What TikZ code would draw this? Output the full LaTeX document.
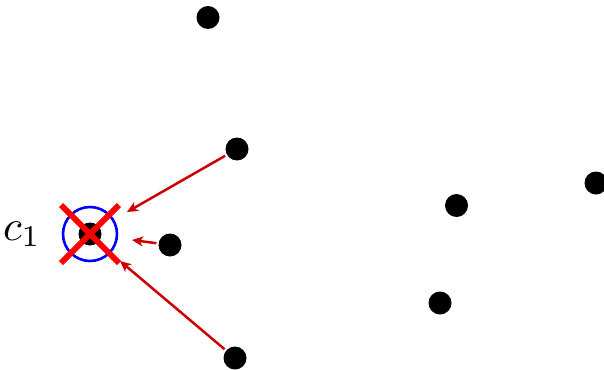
\documentclass[tikz,border=0pt]{standalone}
\usetikzlibrary{arrows.meta}
\begin{document}
\begin{tikzpicture}[x=1pt,y=-1pt,
  pt/.style={circle,fill=black,inner sep=0pt,minimum size=23pt},
  pull/.style={draw={rgb,255:red,204;green,0;blue,0},line width=2.5pt,-{Stealth[inset=3pt,length=11pt,width=10pt]},shorten <=2pt},
  cross/.style={draw={rgb,255:red,255;green,0;blue,0},line width=6pt},
  ring/.style={draw=blue,line width=2.6pt}]
\useasboundingbox (0,0) rectangle (604,369);
\node[pt] (c) at (90,234) {};
\node[pt] (p1) at (208,17.5) {};
\node[pt] (p2) at (237,149) {};
\node[pt] (p3) at (170,245) {};
\node[pt] (p4) at (235,358) {};
\node[pt] (p5) at (456.5,205.5) {};
\node[pt] (p6) at (596,183) {};
\node[pt] (p7) at (440,303) {};
\node[ring,circle,minimum size=54pt,inner sep=0pt] (ring) at (c) {};
\coordinate (x1) at (61,205);
\coordinate (x2) at (119,263);
\coordinate (x3) at (61,263);
\coordinate (x4) at (119,205);
\draw[cross] (x1) -- (x2);
\draw[cross] (x3) -- (x4);
\node[scale=4.3,inner sep=0pt] (lab) at (22,234) {$c_1$};
\coordinate (e2) at (127,212);
\coordinate (e3) at (132,240);
\coordinate (e4) at (120,261);
\draw[pull] (p2) -- (e2);
\draw[pull] (p3) -- (e3);
\draw[pull] (p4) -- (e4);
\end{tikzpicture}
\end{document}
